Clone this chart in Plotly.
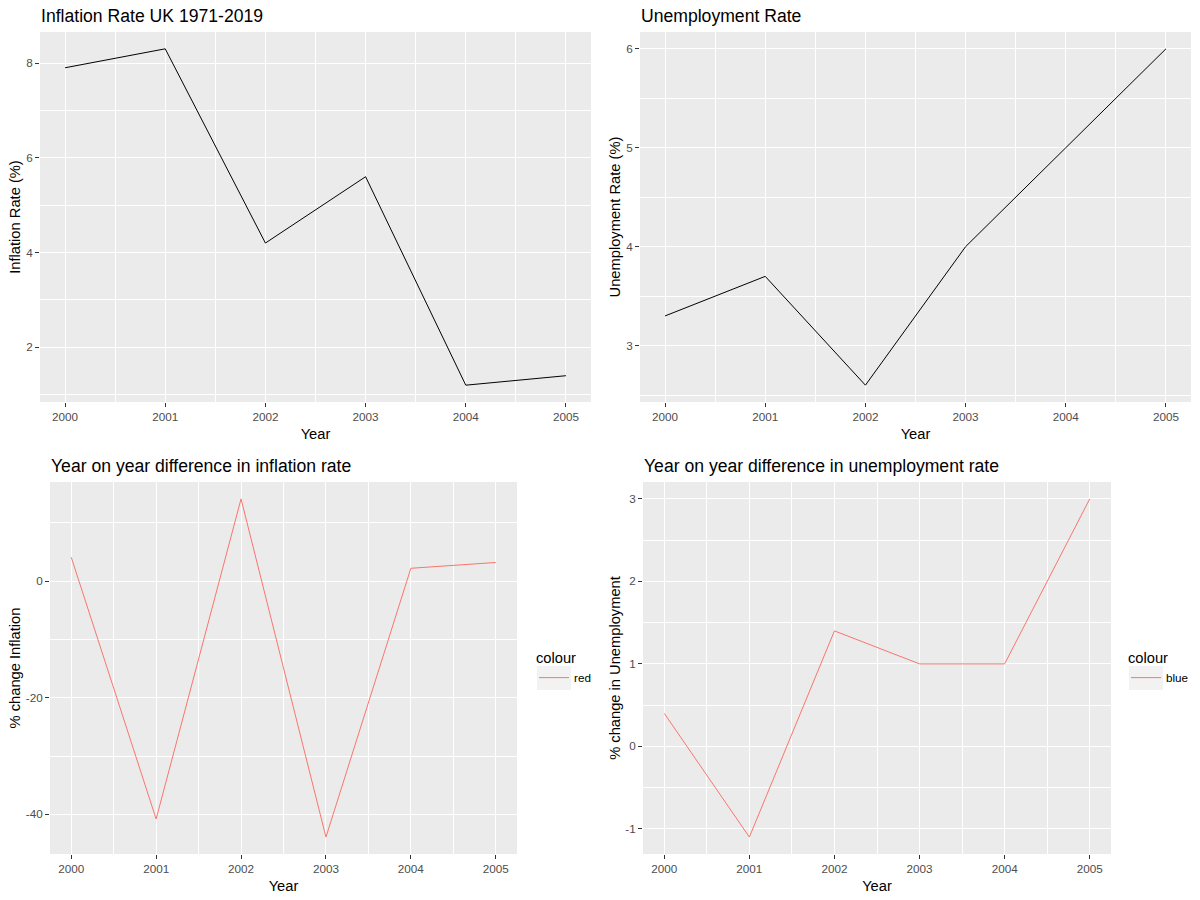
import plotly.graph_objects as go

years = [2000, 2001, 2002, 2003, 2004, 2005]
inflation = [7.9, 8.3, 4.2, 5.6, 1.2, 1.4]
unemployment = [3.3, 3.7, 2.6, 4.0, 5.0, 6.0]
inflation_change = [4.1, -40.8, 14.1, -43.9, 2.2, 3.2]
unemployment_change = [0.4, -1.1, 1.4, 1.0, 1.0, 3.0]

titles = ["Inflation Rate UK 1971-2019", "Unemployment Rate",
          "Year on year difference in inflation rate",
          "Year on year difference in unemployment rate"]
ytitles = ["Inflation Rate (%)", "Unemployment Rate (%)",
           "% change Inflation", "% change in Unemployment"]
legend_labels = ["red", "blue"]

ytick_vals = [[2, 4, 6, 8], [3, 4, 5, 6], [-40, -20, 0], [-1, 0, 1, 2, 3]]
ytick_text = [["2", "4", "6", "8"], ["3", "4", "5", "6"], ["-40", "-20", "0"], ["-1", "0", "1", "2", "3"]]
yminor = [1, 0.5, 10, 0.5]

FONT = "Arial, Liberation Sans, sans-serif"
W, H = 1200, 900
PANEL_BG = "#EBEBEB"
RED = "#F8766D"

def px_x(p):
    return p / W

def px_y(p):
    return 1 - p / H

fig = go.Figure()

fig.add_trace(go.Scatter(x=years, y=inflation, mode="lines", line=dict(color="black", width=1),
                         xaxis="x", yaxis="y", showlegend=False))
fig.add_trace(go.Scatter(x=years, y=unemployment, mode="lines", line=dict(color="black", width=1),
                         xaxis="x2", yaxis="y2", showlegend=False))
fig.add_trace(go.Scatter(x=years, y=inflation_change, mode="lines", line=dict(color=RED, width=1),
                         xaxis="x3", yaxis="y3", name=legend_labels[0], legend="legend"))
fig.add_trace(go.Scatter(x=years, y=unemployment_change, mode="lines", line=dict(color=RED, width=1),
                         xaxis="x4", yaxis="y4", name=legend_labels[1], legend="legend2"))

# panel pixel boxes in window coords: (left, right, top, bottom)
boxes = [(40, 591, 32, 402), (640, 1191, 32, 402), (50, 517, 482, 854), (643, 1111, 482, 854)]

def rng(vals):
    lo, hi = min(vals), max(vals)
    e = (hi - lo) * 0.05
    return [lo - e, hi + e]

yranges = [rng(inflation), rng(unemployment), rng(inflation_change), rng(unemployment_change)]

layout = dict(width=W, height=H, margin=dict(l=0, r=0, t=0, b=0),
              paper_bgcolor="white", plot_bgcolor=PANEL_BG,
              font=dict(family=FONT, color="black"))

for i, (l, r, t, b) in enumerate(boxes):
    sx = "" if i == 0 else str(i + 1)
    xa = dict(domain=[px_x(l), px_x(r)], range=[1999.75, 2005.25], anchor="y" + sx,
              tickmode="linear", tick0=2000, dtick=1, showgrid=True, gridcolor="white", gridwidth=1.1,
              minor=dict(dtick=0.5, tick0=2000, showgrid=True, gridcolor="white", gridwidth=0.5),
              ticks="outside", ticklen=4, tickwidth=1, tickcolor="#333333",
              tickfont=dict(size=11.7, color="#4D4D4D", family=FONT),
              title=dict(text="Year", font=dict(size=14.7, color="black", family=FONT), standoff=6),
              zeroline=False, showline=False, automargin=False, fixedrange=True)
    ya = dict(domain=[px_y(b), px_y(t)], range=yranges[i], anchor="x" + sx,
              tickmode="array", tickvals=ytick_vals[i], ticktext=ytick_text[i],
              showgrid=True, gridcolor="white", gridwidth=1.1,
              minor=dict(dtick=yminor[i], tick0=0, showgrid=True, gridcolor="white", gridwidth=0.5),
              ticks="outside", ticklen=4, tickwidth=1, tickcolor="#333333",
              tickfont=dict(size=11.7, color="#4D4D4D", family=FONT),
              title=dict(text=ytitles[i], font=dict(size=14.7, color="black", family=FONT), standoff=1),
              zeroline=False, showline=False, automargin=False, fixedrange=True)
    layout["xaxis" + sx] = xa
    layout["yaxis" + sx] = ya

annotations = []
for i, (l, r, t, b) in enumerate(boxes):
    annotations.append(dict(text=titles[i], xref="paper", yref="paper", x=px_x(l), y=px_y(t - 16),
                            xanchor="left", yanchor="middle", showarrow=False, borderpad=0,
                            font=dict(size=17.6, color="black", family=FONT)))
layout["annotations"] = annotations

def legend_cfg(xpx, ypx):
    return dict(x=px_x(xpx), y=px_y(ypx), xanchor="left", yanchor="top",
                bgcolor="rgba(0,0,0,0)",
                title=dict(text="colour", font=dict(size=14.7, color="black", family=FONT)),
                font=dict(size=11.7, color="black", family=FONT), itemwidth=30)

layout["legend"] = legend_cfg(534, 644)
layout["legend2"] = legend_cfg(1126, 644)

# grey key backgrounds behind the legend samples
layout["shapes"] = [
    dict(type="rect", xref="paper", yref="paper", x0=px_x(537), x1=px_x(571), y0=px_y(690), y1=px_y(666),
         fillcolor="#F2F2F2", line=dict(width=0), layer="below"),
    dict(type="rect", xref="paper", yref="paper", x0=px_x(1129), x1=px_x(1163), y0=px_y(690), y1=px_y(666),
         fillcolor="#F2F2F2", line=dict(width=0), layer="below"),
]

fig.update_layout(**layout)
fig.write_html("out.html", config={"displayModeBar": False},
               post_script="document.body.style.margin='0';")
